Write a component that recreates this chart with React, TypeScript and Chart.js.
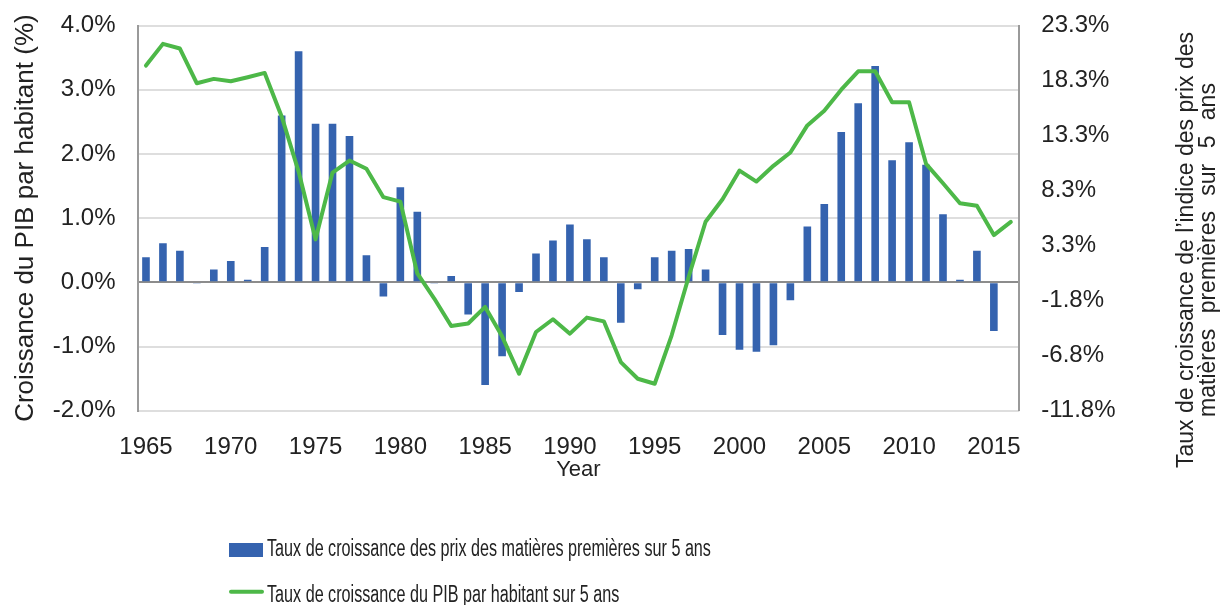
import React, { useEffect, useRef } from 'react';
import { Chart, registerables } from 'chart.js';

Chart.register(...registerables);

const years = [
  '1965', '1966', '1967', '1968', '1969', '1970', '1971', '1972', '1973', '1974',
  '1975', '1976', '1977', '1978', '1979', '1980', '1981', '1982', '1983', '1984',
  '1985', '1986', '1987', '1988', '1989', '1990', '1991', '1992', '1993', '1994',
  '1995', '1996', '1997', '1998', '1999', '2000', '2001', '2002', '2003', '2004',
  '2005', '2006', '2007', '2008', '2009', '2010', '2011', '2012', '2013', '2014',
  '2015', '2016',
];

// Bars (left axis, %)
const commodityGrowth = [
  0.39, 0.61, 0.49, -0.02, 0.2, 0.33, 0.04, 0.55, 2.6, 3.6,
  2.47, 2.47, 2.28, 0.42, -0.22, 1.48, 1.1, -0.01, 0.1, -0.5,
  -1.6, -1.15, -0.15, 0.45, 0.65, 0.9, 0.67, 0.39, -0.63, -0.11,
  0.39, 0.49, 0.52, 0.2, -0.82, -1.05, -1.08, -0.98, -0.28, 0.87,
  1.22, 2.34, 2.79, 3.37, 1.9, 2.18, 1.83, 1.06, 0.04, 0.49,
  -0.76, null,
];

// Line (right axis, %)
const gdpGrowth = [
  19.61, 21.58, 21.16, 18.0, 18.4, 18.18, 18.55, 18.94, 14.99, 9.98,
  3.82, 9.89, 10.98, 10.23, 7.65, 7.25, 0.72, -1.56, -4.05, -3.83,
  -2.32, -4.99, -8.39, -4.6, -3.44, -4.75, -3.29, -3.63, -7.33, -8.85,
  -9.3, -4.9, 0.4, 5.42, 7.46, 10.07, 9.07, 10.5, 11.71, 14.17,
  15.51, 17.42, 19.09, 19.09, 16.27, 16.27, 10.68, 8.92, 7.1, 6.88,
  4.21, 5.4,
];

const leftTicks = [-2, -1, 0, 1, 2, 3, 4];
const rightTicks = [-11.75, -6.75, -1.75, 3.25, 8.25, 13.25, 18.25, 23.25];

const barLabel = 'Taux de croissance des prix des matières premières sur 5 ans';
const lineLabel = 'Taux de croissance du PIB par habitant sur 5 ans';
const leftTitle = 'Croissance du PIB par habitant (%)';
const rightTitleLines = ["Taux de croissance de l\u2019indice des prix des", 'matières premières sur 5 ans'];
const xTitle = 'Year';

const BAR_COLOR = '#3563af';
const LINE_COLOR = '#4db848';
const TEXT_COLOR = '#222222';
const FONT = '"Liberation Sans", Arial, Helvetica, sans-serif';

const extrasPlugin = {
  id: 'extras',
  afterDraw(chart: any) {
    const ctx = chart.ctx as CanvasRenderingContext2D;
    ctx.save();
    // Legend
    ctx.fillStyle = BAR_COLOR;
    ctx.fillRect(229, 543, 34, 14);
    ctx.strokeStyle = LINE_COLOR;
    ctx.lineWidth = 4;
    ctx.lineCap = 'round';
    ctx.beginPath();
    ctx.moveTo(231, 591.7);
    ctx.lineTo(262, 591.7);
    ctx.stroke();

    ctx.fillStyle = TEXT_COLOR;
    ctx.font = `23px ${FONT}`;
    ctx.textAlign = 'left';
    ctx.textBaseline = 'alphabetic';
    const drawCondensed = (text: string, x: number, y: number) => {
      ctx.save();
      ctx.translate(x, y);
      ctx.scale(0.703, 1);
      ctx.fillText(text, 0, 0);
      ctx.restore();
    };
    drawCondensed(barLabel, 267, 556);
    drawCondensed(lineLabel, 267, 601.5);

    // Right axis title
    ctx.font = `23px ${FONT}`;
    ctx.textAlign = 'center';
    ctx.textBaseline = 'middle';
    const xs = [1187, 1208.5];
    const spacing = ['0px', '9px'];
    rightTitleLines.forEach((line, i) => {
      ctx.save();
      (ctx as any).wordSpacing = spacing[i];
      ctx.translate(xs[i], 250);
      ctx.rotate(-Math.PI / 2);
      ctx.fillText(line, 0, 0);
      ctx.restore();
    });
    ctx.restore();
  },
};

export default function App() {
  const canvasRef = useRef<HTMLCanvasElement | null>(null);

  useEffect(() => {
    if (!canvasRef.current) return;
    Chart.defaults.font.family = FONT;
    Chart.defaults.color = TEXT_COLOR;

    const chart = new Chart(canvasRef.current, {
      type: 'bar',
      data: {
        labels: years,
        datasets: [
          {
            type: 'line',
            label: lineLabel,
            data: gdpGrowth,
            yAxisID: 'y1',
            borderColor: LINE_COLOR,
            backgroundColor: LINE_COLOR,
            borderWidth: 4,
            pointRadius: 0,
            tension: 0,
            borderJoinStyle: 'round',
            borderCapStyle: 'round',
            order: 0,
          } as any,
          {
            type: 'bar',
            label: barLabel,
            data: commodityGrowth,
            yAxisID: 'y',
            backgroundColor: BAR_COLOR,
            borderWidth: 0,
            barPercentage: 0.45,
            categoryPercentage: 1.0,
            order: 1,
          } as any,
        ],
      },
      options: {
        responsive: false,
        animation: false,
        devicePixelRatio: 1,
        layout: { padding: { top: 25.5, bottom: 100, left: 0, right: 0 }, autoPadding: false },
        plugins: {
          legend: { display: false },
          tooltip: { enabled: false },
        },
        scales: {
          x: {
            type: 'category',
            grid: { display: false, drawTicks: false },
            border: { display: false },
            ticks: {
              autoSkip: false,
              maxRotation: 0,
              minRotation: 0,
              padding: 22,
              font: { size: 24 },
              color: TEXT_COLOR,
              callback: function (this: any, _v: any, idx: number) {
                const y = Number(years[idx]);
                return y % 5 === 0 ? String(y) : null;
              },
            },
            title: {
              display: true,
              text: xTitle,
              font: { size: 22 },
              color: TEXT_COLOR,
              padding: { top: 0, bottom: 22 },
            },
            afterFit: (scale: any) => {
              scale.height = 94.3;
              scale.paddingLeft = 0;
              scale.paddingRight = 0;
            },
          },
          y: {
            type: 'linear',
            position: 'left',
            min: -2,
            max: 4,
            afterBuildTicks: (scale: any) => {
              scale.ticks = leftTicks.map((v) => ({ value: v }));
            },
            ticks: {
              padding: 22,
              font: { size: 24 },
              color: TEXT_COLOR,
              callback: (v: any) => Number(v).toFixed(1) + '%',
            },
            grid: {
              drawTicks: false,
              lineWidth: 2,
              color: (c: any) => (c.tick && c.tick.value === 0 ? '#8c8c8c' : '#dedede'),
            },
            border: { display: true, color: '#9a9a9a', width: 2 },
            title: {
              display: true,
              text: leftTitle,
              font: { size: 26 },
              color: TEXT_COLOR,
              padding: { top: 10, bottom: 0 },
            },
            afterFit: (scale: any) => {
              scale.width = 137.5;
              scale.paddingTop = 0;
              scale.paddingBottom = 0;
            },
          },
          y1: {
            type: 'linear',
            position: 'right',
            min: rightTicks[0],
            max: rightTicks[rightTicks.length - 1],
            afterBuildTicks: (scale: any) => {
              scale.ticks = rightTicks.map((v) => ({ value: v }));
            },
            ticks: {
              padding: 22,
              font: { size: 24 },
              color: TEXT_COLOR,
              callback: (v: any) => Number(v).toFixed(1) + '%',
            },
            grid: { display: false, drawTicks: false },
            border: { display: true, color: '#9a9a9a', width: 2 },
            afterFit: (scale: any) => {
              scale.width = 203.7;
              scale.paddingTop = 0;
              scale.paddingBottom = 0;
            },
          },
        },
      } as any,
      plugins: [extrasPlugin],
    });

    return () => {
      chart.destroy();
    };
  }, []);

  return (
    <div style={{ position: 'absolute', left: 0, top: 0, width: 1223, height: 605, background: '#ffffff' }}>
      <canvas ref={canvasRef} width={1223} height={605} />
    </div>
  );
}
